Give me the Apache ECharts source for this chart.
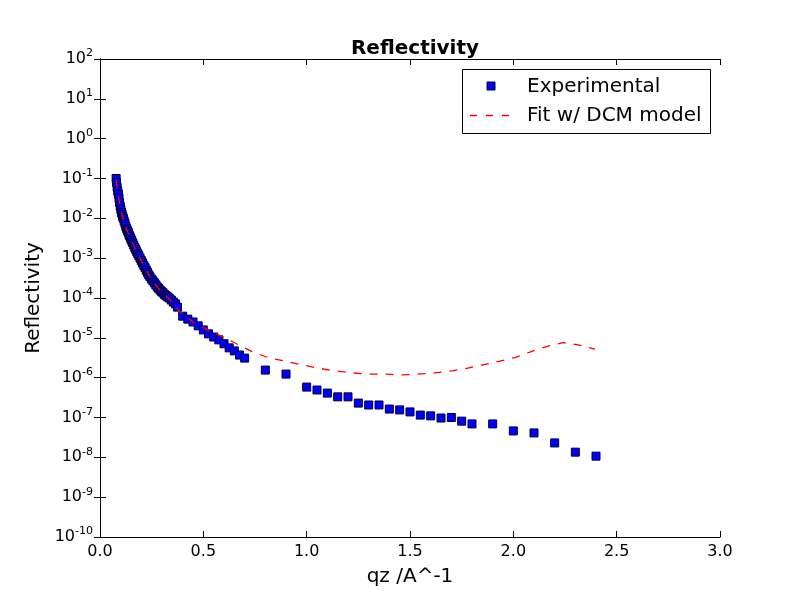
<!DOCTYPE html>
<html>
<head>
<meta charset="utf-8">
<script src="https://cdn.jsdelivr.net/npm/echarts@6/dist/echarts.min.js"></script>
<style>html,body{margin:0;padding:0;background:#fff}#c{width:800px;height:597px}</style>
</head>
<body>
<div id="c"></div>
<script>
var expQ = [0.078,0.080,0.083,0.086,0.089,0.092,0.095,0.098,0.101,0.104,0.107,0.110,0.113,0.117,0.121,0.125,0.129,0.133,0.137,0.141,0.145,0.149,0.153,0.158,0.163,0.168,0.173,0.178,0.183,0.188,0.194,0.200,0.206,0.212,0.218,0.224,0.230,0.236,0.242,0.249,0.256,0.263,0.270,0.277,0.284,0.291,0.298,0.305,0.312,0.319,0.327,0.335,0.345,0.355,0.365,0.375,0.400,0.425,0.450,0.475,0.500,0.525,0.550,0.575,0.600,0.625,0.650,0.675,0.700,0.8,0.9,1.0,1.05,1.1,1.15,1.2,1.25,1.3,1.35,1.4,1.45,1.5,1.55,1.6,1.65,1.7,1.75,1.8,1.9,2.0,2.1,2.2,2.3,2.4];
var expR = [1.0e-1,7.9e-2,6.0e-2,4.8e-2,4.0e-2,3.2e-2,2.5e-2,2.0e-2,1.66e-2,1.41e-2,1.26e-2,1.10e-2,1.0e-2,8.5e-3,7.4e-3,6.3e-3,5.5e-3,4.9e-3,4.4e-3,3.8e-3,3.5e-3,3.1e-3,2.8e-3,2.45e-3,2.14e-3,1.86e-3,1.66e-3,1.45e-3,1.29e-3,1.15e-3,1.0e-3,8.7e-4,7.6e-4,6.6e-4,5.8e-4,5.0e-4,4.4e-4,3.8e-4,3.4e-4,3.0e-4,2.7e-4,2.4e-4,2.14e-4,1.9e-4,1.74e-4,1.58e-4,1.45e-4,1.35e-4,1.23e-4,1.15e-4,1.07e-4,1.0e-4,8.9e-5,7.9e-5,7.1e-5,5.9e-5,3.5e-5,2.95e-5,2.5e-5,2.0e-5,1.58e-5,1.26e-5,1.05e-5,8.9e-6,7.1e-6,5.6e-6,4.7e-6,3.7e-6,3.1e-6,1.55e-6,1.23e-6,5.8e-7,4.9e-7,4.1e-7,3.3e-7,3.3e-7,2.3e-7,2.06e-7,2.06e-7,1.63e-7,1.55e-7,1.38e-7,1.15e-7,1.1e-7,9.7e-8,1.0e-7,8.1e-8,6.9e-8,6.9e-8,4.6e-8,4.1e-8,2.3e-8,1.35e-8,1.07e-8];
var fitQ = [0.078,0.085,0.092,0.1,0.113,0.13,0.153,0.175,0.194,0.22,0.242,0.27,0.3,0.335,0.387,0.45,0.532,0.595,0.653,0.74,0.813,0.895,0.977,1.055,1.137,1.219,1.297,1.379,1.461,1.539,1.621,1.703,1.78,1.853,1.935,2.008,2.09,2.168,2.24,2.32,2.395];
var fitR = [8.9e-2,5.0e-2,3.0e-2,1.7e-2,9.5e-3,5.1e-3,2.7e-3,1.5e-3,9.8e-4,5.4e-4,3.4e-4,2.1e-4,1.38e-4,9.5e-5,4.5e-5,2.5e-5,1.48e-5,1.05e-5,7.4e-6,4.4e-6,3.2e-6,2.6e-6,2.1e-6,1.74e-6,1.48e-6,1.32e-6,1.23e-6,1.23e-6,1.17e-6,1.23e-6,1.32e-6,1.48e-6,1.74e-6,2.1e-6,2.6e-6,3.2e-6,4.6e-6,6.2e-6,7.6e-6,6.6e-6,5.2e-6];
var seriesNames = ['Experimental', 'Fit w/ DCM model'];
var titleText = 'Reflectivity';
var xName = 'qz /A^-1';
var yName = 'Reflectivity';

var chart = echarts.init(document.getElementById('c'), null, {renderer: 'canvas'});
var FONT = 'DejaVu Sans';
function pairs(a, b) { return a.map(function (v, i) { return [v, b[i]]; }); }
var tickStyle = {show: true, inside: true, length: 6, lineStyle: {color: '#000', width: 1}};
var lineStyle = {show: true, lineStyle: {color: '#000', width: 1}};
var yLabel = {
  show: true, margin: 7, fontFamily: FONT, color: '#000',
  formatter: function (v) { var e = Math.round(Math.log10(v)); return '{b|10}{s|' + e + '}'; },
  rich: {
    b: {fontSize: 16, fontFamily: FONT, color: '#000'},
    s: {fontSize: 11, fontFamily: FONT, color: '#000', padding: [0, 0, 11, 0]}
  }
};
var option = {
  backgroundColor: '#fff',
  animation: false,
  title: {
    text: titleText, left: 410, top: 34, textAlign: 'center',
    textStyle: {fontFamily: FONT, fontSize: 20, fontWeight: 'bold', color: '#000'}
  },
  grid: {left: 100, right: 80, top: 59, bottom: 60, containLabel: false},
  xAxis: [
    {type: 'value', min: 0, max: 3, interval: 0.5, position: 'bottom',
     axisLine: lineStyle, axisTick: tickStyle, splitLine: {show: false},
     axisLabel: {fontFamily: FONT, fontSize: 16, color: '#000', margin: 7, formatter: function (v) { return v.toFixed(1); }},
     name: xName, nameLocation: 'middle', nameGap: 30,
     nameTextStyle: {fontFamily: FONT, fontSize: 20, color: '#000'}},
    {type: 'value', min: 0, max: 3, interval: 0.5, position: 'top',
     axisLine: lineStyle, axisTick: tickStyle, splitLine: {show: false}, axisLabel: {show: false}}
  ],
  yAxis: [
    {type: 'log', logBase: 10, min: 1e-10, max: 1e2, interval: 1, position: 'left',
     axisLine: lineStyle, axisTick: tickStyle, splitLine: {show: false}, minorTick: {show: false},
     axisLabel: yLabel,
     name: yName, nameLocation: 'middle', nameGap: 54,
     nameTextStyle: {fontFamily: FONT, fontSize: 20, color: '#000'}},
    {type: 'log', logBase: 10, min: 1e-10, max: 1e2, interval: 1, position: 'right',
     axisLine: lineStyle, axisTick: tickStyle, splitLine: {show: false}, axisLabel: {show: false}}
  ],
  series: [
    {name: seriesNames[0], type: 'scatter', symbol: 'rect', symbolSize: 8,
     itemStyle: {color: '#0000ff', borderColor: '#000033', borderWidth: 1, opacity: 1},
     data: pairs(expQ, expR)},
    {name: seriesNames[1], type: 'line', showSymbol: false, symbol: 'none', smooth: false,
     lineStyle: {color: '#ff0000', width: 1.3, type: [8, 8]},
     data: pairs(fitQ, fitR)}
  ],
  graphic: [
    {type: 'rect', shape: {x: 462.5, y: 69.5, width: 248, height: 64}, style: {fill: '#fff', stroke: '#000', lineWidth: 1}, z: 100},
    {type: 'rect', shape: {x: 487, y: 82, width: 8, height: 8}, style: {fill: '#0000ff', stroke: '#000033', lineWidth: 1}, z: 101},
    {type: 'line', shape: {x1: 470, y1: 115.5, x2: 514, y2: 115.5}, style: {stroke: '#ff0000', lineWidth: 1.3, lineDash: [7, 9]}, z: 101},
    {type: 'text', x: 527, y: 87, style: {text: seriesNames[0], font: '20px "DejaVu Sans"', fill: '#000', textVerticalAlign: 'middle', verticalAlign: 'middle'}, z: 101},
    {type: 'text', x: 527, y: 116, style: {text: seriesNames[1], font: '20px "DejaVu Sans"', fill: '#000', textVerticalAlign: 'middle', verticalAlign: 'middle'}, z: 101}
  ]
};
chart.setOption(option);
</script>
</body>
</html>
